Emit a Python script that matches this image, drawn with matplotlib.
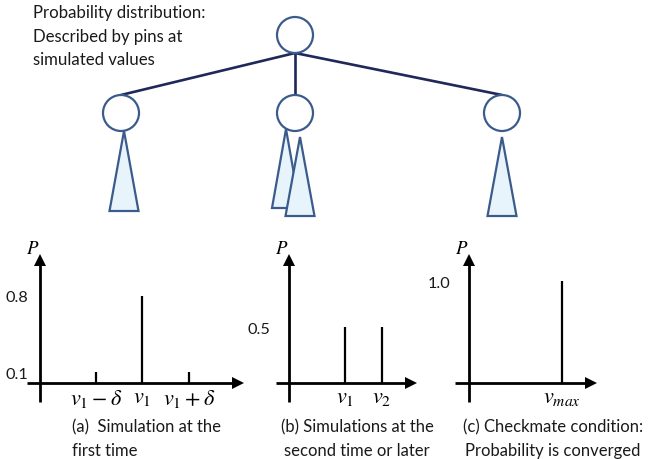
import matplotlib.pyplot as plt
from matplotlib.patches import Circle, Polygon

plt.rcParams["font.family"] = ["Lato", "DejaVu Sans"]
plt.rcParams["mathtext.fontset"] = "stix"

W, H = 651, 460

# tree sketch (pixel units, y grows downward)
node_x = [295, 121, 295, 502]
node_y = [36, 114, 114, 114]
node_r = 18
# each subtree cone: apex x, apex y, base y, half width
cone_x = [124, 286, 300, 502]
cone_top = [132, 130, 138, 138]
cone_base = [212, 209, 217, 217]
cone_half = [14.5, 14, 14.5, 14.5]

tree_note = "Probability distribution:\nDescribed by pins at\nsimulated values"

# pin diagrams
pos_a = [1.2, 2.2, 3.2]
prob_a = [0.1, 0.8, 0.1]
labels_a = [r"$v_1-\delta$", r"$v_1$", r"$v_1+\delta$"]
yticks_a = [0.1, 0.8]

pos_b = [1.2, 2.0]
prob_b = [0.5, 0.5]
labels_b = [r"$v_1$", r"$v_2$"]
yticks_b = [0.5]

pos_c = [2.0]
prob_c = [1.0]
labels_c = [r"$v_{max}$"]
yticks_c = [1.0]

captions = [
    "(a)  Simulation at the\nfirst time",
    "(b) Simulations at the\nsecond time or later",
    "(c) Checkmate condition:\nProbability is converged",
]

EDGE = "#3b5b8c"
FILL = "#e8f4fb"
LINK = "#1f2858"
TXT = "#1a1a1a"

fig = plt.figure(figsize=(W / 100, H / 100), dpi=100)

# %% tree on a full-figure pixel canvas
top = fig.add_axes([0, 0, 1, 1])
top.set_xlim(0, W)
top.set_ylim(H, 0)
top.axis("off")

for cx, cy in zip(node_x[1:], node_y[1:]):
    top.plot([node_x[0], cx], [node_y[0] + node_r, cy - node_r],
             color=LINK, lw=1.9, solid_capstyle="round", zorder=1)
for cx, cy in zip(node_x, node_y):
    top.add_patch(Circle((cx, cy), node_r, fc="white", ec=EDGE, lw=1.6, zorder=2))
for x, t, b, h in zip(cone_x, cone_top, cone_base, cone_half):
    top.add_patch(Polygon([(x, t), (x - h, b), (x + h, b)], closed=True,
                          fc=FILL, ec=EDGE, lw=1.6, joinstyle="miter", zorder=3))

top.text(33, 5, tree_note, fontsize=12.1, color=TXT, va="top",
         ha="left", linespacing=1.58)


# %% pin diagrams
def pin_panel(x_left, x_tip, x_axis, y_top, pos, prob, labels, yticks,
              ylab_pad, caption, cap_x, cap_ha):
    # pixel -> data scales: 46.5 px per x unit; y scale set so the top label sits right
    y_base, y_axis, y_arrow = 403, 384, 255
    sy = (y_axis - y_top) / max(prob)
    sx = 46.5
    half = 5.5  # half arrowhead in px
    left, right = x_left, x_tip - half
    bottom, topp = y_base, y_arrow + half
    ax = fig.add_axes([left / W, 1 - bottom / H, (right - left) / W, (bottom - topp) / H])
    ax.patch.set_alpha(0)
    ax.set_xlim(-(x_axis - left) / sx, (right - x_axis) / sx)
    ax.set_ylim(-(bottom - y_axis) / sy, (y_axis - topp) / sy)

    ax.vlines(pos, 0, prob, color="black", lw=1.6)

    for s in ("top", "right"):
        ax.spines[s].set_visible(False)
    for s in ("left", "bottom"):
        ax.spines[s].set_position(("data", 0))
        ax.spines[s].set_linewidth(2.0)
        ax.spines[s].set_capstyle("butt")
    ax.plot(1, 0, ">", color="black", ms=8, mew=0,
            transform=ax.get_yaxis_transform(), clip_on=False)
    ax.plot(0, 1, "^", color="black", ms=8, mew=0,
            transform=ax.get_xaxis_transform(), clip_on=False)

    ax.set_xticks(pos, labels, fontsize=16)
    ax.set_yticks(yticks, [f"{v:.1f}" for v in yticks], fontsize=11.7, color=TXT)
    ax.tick_params(axis="x", length=0, pad=3)
    ax.tick_params(axis="y", length=0, pad=ylab_pad)

    ax.annotate(r"$P$", xy=(0, 1), xycoords=ax.get_xaxis_transform(),
                xytext=(-5, 5), textcoords="offset points",
                ha="center", va="baseline", fontsize=13.5)

    fig.text(cap_x / W, 1 - 419 / H, caption, fontsize=12, color=TXT,
             ha=cap_ha, va="top", linespacing=1.6, multialignment=cap_ha)
    return ax


pin_panel(27, 243, 40, 297, pos_a, prob_a, labels_a, yticks_a, 8.5,
          captions[0], 72, "left")
pin_panel(276, 416, 289, 328, pos_b, prob_b, labels_b, yticks_b, 13.5,
          captions[1], 357, "center")
pin_panel(455, 596, 469, 282, pos_c, prob_c, labels_c, yticks_c, 13.5,
          captions[2], 553, "center")

fig.savefig("out.png", dpi=100)
